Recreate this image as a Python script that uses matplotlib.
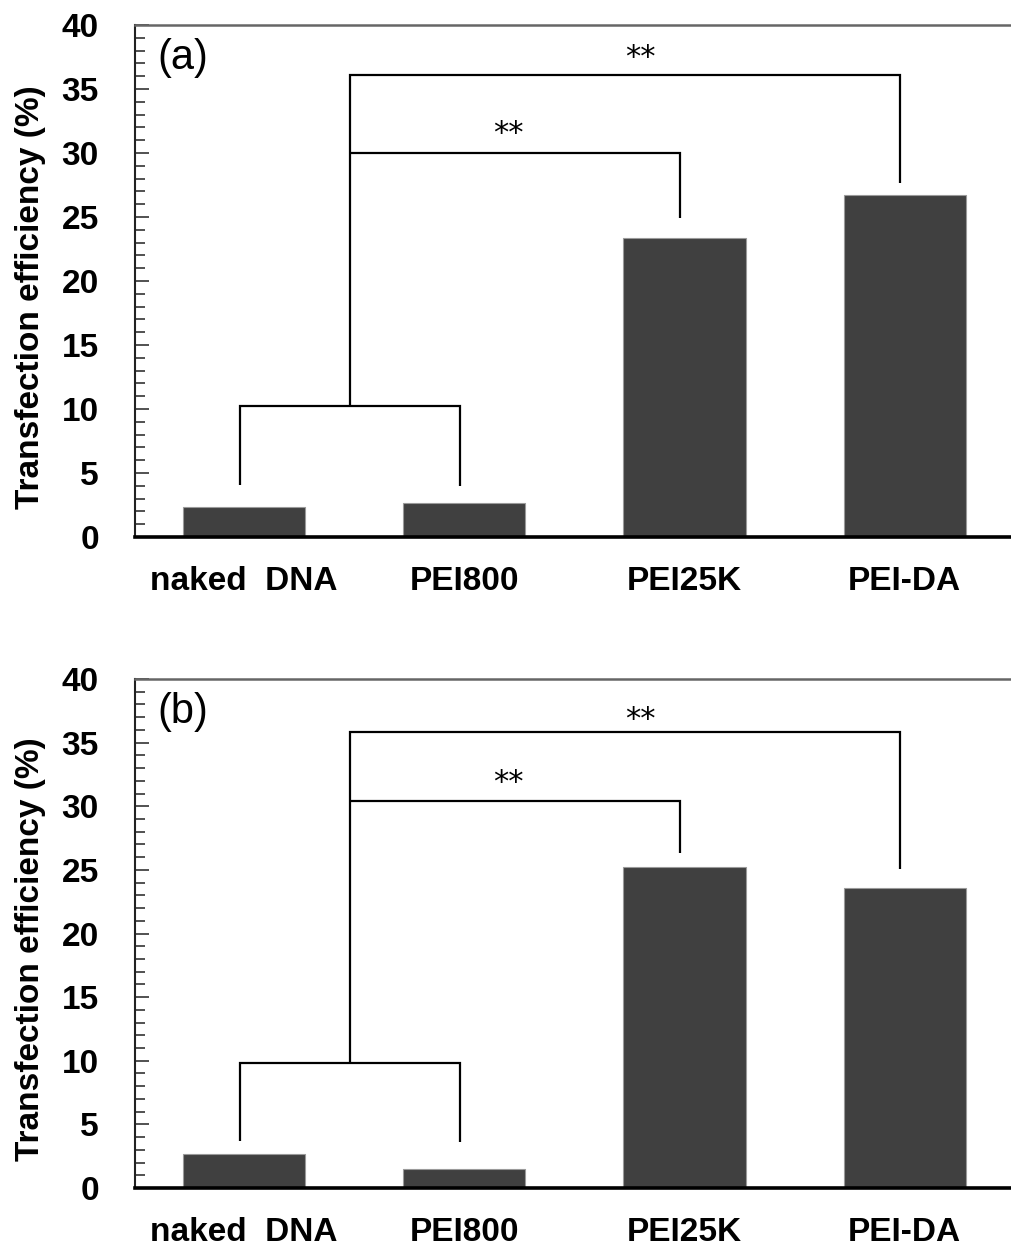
import matplotlib
matplotlib.use("Agg")
import matplotlib.pyplot as plt
from matplotlib.ticker import MultipleLocator

plt.rcParams['font.family'] = ['Liberation Sans', 'DejaVu Sans']

# Groups and measured transfection efficiencies (%)
categories = ["naked  DNA", "PEI800", "PEI25K", "PEI-DA"]
efficiency_a = [2.37, 2.63, 23.34, 26.7]
efficiency_b = [2.7, 1.47, 25.2, 23.6]
panel_labels = ["(a)", "(b)"]

# Significance brackets (heights in % units)
brackets_a = dict(low_leg=[4.1, 4.0], low_top=10.26, stem_top=36.1,
                  mid_h=30.0, mid_end=24.9, top_end=27.65)
brackets_b = dict(low_leg=[3.7, 3.6], low_top=9.82, stem_top=35.8,
                  mid_h=30.44, mid_end=26.35, top_end=25.05)
star_y_a = [37.5, 31.5]
star_y_b = [36.8, 31.9]
star_text = "**"

W, H = 1011, 1248
fig = plt.figure(figsize=(W / 100, H / 100), dpi=100)

axes_px = [(25, 537), (679, 1188)]
left_px, right_px = 135, 1011
FS = 24


def draw_panel(ax, values, label, br, star_y):
    x = list(range(len(categories)))
    ax.bar(x, values, width=0.555, color="#404040", edgecolor="#9a9a9a",
           linewidth=0.8, zorder=2)
    ax.set_xlim(-0.495, 3.483)
    ax.set_ylim(0, 40)
    ax.set_xticks(x)
    ax.set_xticklabels(categories, fontsize=FS, fontweight="bold")
    ax.yaxis.set_major_locator(MultipleLocator(5))
    ax.yaxis.set_minor_locator(MultipleLocator(1))
    ax.tick_params(axis="y", which="major", direction="in", length=10,
                   width=1.2, labelsize=FS, pad=26, color="#333333")
    ax.tick_params(axis="y", which="minor", direction="in", length=7,
                   width=1.2, color="#333333")
    ax.tick_params(axis="x", which="both", length=0, pad=21)
    for t in ax.get_yticklabels():
        t.set_fontweight("bold")
    ax.set_ylabel("Transfection efficiency (%)", fontsize=FS,
                  fontweight="bold")
    ax.yaxis.set_label_coords(-0.102, 0.469)
    ax.spines["right"].set_visible(False)
    ax.spines["top"].set_color("#666666")
    ax.spines["top"].set_linewidth(1.8)
    ax.spines["left"].set_color("#222222")
    ax.spines["left"].set_linewidth(1.5)
    ax.spines["bottom"].set_color("black")
    ax.spines["bottom"].set_linewidth(2.6)
    ax.spines["bottom"].set_zorder(3)

    ax.text(0.025, 0.935, label, transform=ax.transAxes, fontsize=30,
            ha="left", va="center")

    # brackets joining the compared groups
    lw = 1.6
    off = -0.02
    x0, x1, x2, x3 = (xi + off for xi in x)
    stem = (x0 + x1) / 2
    kw = dict(color="black", lw=lw, solid_capstyle="butt",
              solid_joinstyle="miter", zorder=4)
    ax.plot([x0, x0, x1, x1], [br["low_leg"][0], br["low_top"],
                               br["low_top"], br["low_leg"][1]], **kw)
    ax.plot([stem, stem, x3, x3], [br["low_top"], br["stem_top"],
                                   br["stem_top"], br["top_end"]], **kw)
    ax.plot([stem, x2, x2], [br["mid_h"], br["mid_h"], br["mid_end"]], **kw)

    ax.text(1.80, star_y[0], star_text, fontsize=22, ha="center",
            va="center", family="DejaVu Sans")
    ax.text(1.20, star_y[1], star_text, fontsize=22, ha="center",
            va="center", family="DejaVu Sans")


datasets = [(efficiency_a, brackets_a, star_y_a),
            (efficiency_b, brackets_b, star_y_b)]
for (top, bottom), (vals, br, sy), lab in zip(axes_px, datasets, panel_labels):
    ax = fig.add_axes([left_px / W, 1 - bottom / H,
                       (right_px - left_px) / W, (bottom - top) / H])
    draw_panel(ax, vals, lab, br, sy)

fig.savefig("out.png", dpi=100)
